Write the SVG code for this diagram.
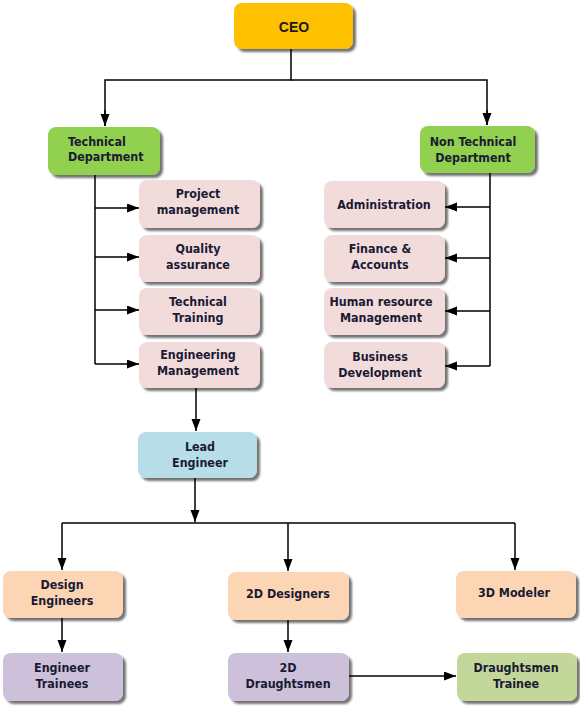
<svg xmlns="http://www.w3.org/2000/svg" width="580" height="709" viewBox="0 0 580 709">
<defs>
<filter id="sh" x="-10%" y="-10%" width="130%" height="140%">
<feGaussianBlur in="SourceAlpha" stdDeviation="1.2"/>
<feOffset dx="3" dy="3" result="b"/>
<feComponentTransfer><feFuncA type="linear" slope="0.55"/></feComponentTransfer>
<feMerge><feMergeNode/><feMergeNode in="SourceGraphic"/></feMerge>
</filter>
<marker id="ar" markerUnits="userSpaceOnUse" markerWidth="13" markerHeight="10" refX="12" refY="4.5" orient="auto">
<path d="M0,0 L12,4.5 L0,9 z" fill="#000"/>
</marker>
</defs>
<style>
.box{filter:url(#sh);}
.t{font-family:'DejaVu Sans Condensed','DejaVu Sans',sans-serif;font-stretch:condensed;font-weight:bold;font-size:12.4px;fill:#1a1a33;text-anchor:middle;}
.c{fill:none;stroke:#000;stroke-width:1.5;}
.a{marker-end:url(#ar);}
.ceo{fill:#FFC000;}
.grn{fill:#92D050;}
.pnk{fill:#F2DCDB;}
.blu{fill:#B7DEE8;}
.pch{fill:#FCD5B4;}
.lav{fill:#CCC0DA;}
.lg{fill:#C4D79B;}
</style>
<rect width="580" height="709" fill="#fff"/>
<g id="connectors">
<path class="c" d="M291 49 V80 H105 V126"/>
<path class="c a" d="M105 110 V126"/>
<path class="c" d="M291 80 H487 V125"/>
<path class="c a" d="M487 110 V125"/>
<path class="c" d="M95 175 V364"/>
<path class="c a" d="M95 208 H139"/>
<path class="c a" d="M95 257 H139"/>
<path class="c a" d="M95 310 H139"/>
<path class="c a" d="M95 364 H139"/>
<path class="c" d="M490 173 V366"/>
<path class="c a" d="M490 207 H445"/>
<path class="c a" d="M490 258 H445"/>
<path class="c a" d="M490 311 H445"/>
<path class="c a" d="M490 366 H445"/>
<path class="c a" d="M196 388 V431"/>
<path class="c a" d="M195 478 V522"/>
<path class="c" d="M62 523 H515"/>
<path class="c a" d="M62 523 V570"/>
<path class="c a" d="M288 523 V571"/>
<path class="c a" d="M515 523 V570"/>
<path class="c a" d="M62 618 V652"/>
<path class="c a" d="M288 620 V652"/>
<path class="c a" d="M349 676 H456"/>
</g>
<g id="ceo"><rect class="box ceo" x="234" y="3" width="119" height="46" rx="8"/><text x="294" y="32" style="font-family:'Liberation Sans',Arial,sans-serif;font-weight:bold;font-size:14px;fill:#1a1a1a;text-anchor:middle">CEO</text></g>
<g id="tech"><rect class="box grn" x="48" y="127" width="112" height="48" rx="8"/><text class="t" x="68" y="146" style="text-anchor:start">Technical</text><text class="t" x="68" y="161" style="text-anchor:start">Department</text></g>
<g id="nontech"><rect class="box grn" x="420" y="126" width="115" height="47" rx="8"/><text class="t" x="473" y="146">Non Technical</text><text class="t" x="473" y="162">Department</text></g>
<g id="pm"><rect class="box pnk" x="139" y="180" width="121" height="48" rx="8"/><text class="t" x="198" y="198">Project</text><text class="t" x="198" y="214">management</text></g>
<g id="qa"><rect class="box pnk" x="139" y="235" width="121" height="47" rx="8"/><text class="t" x="198" y="253">Quality</text><text class="t" x="198" y="269">assurance</text></g>
<g id="tt"><rect class="box pnk" x="139" y="288" width="121" height="47" rx="8"/><text class="t" x="198" y="306">Technical</text><text class="t" x="198" y="322">Training</text></g>
<g id="em"><rect class="box pnk" x="139" y="342" width="121" height="46" rx="8"/><text class="t" x="198" y="359">Engineering</text><text class="t" x="198" y="375">Management</text></g>
<g id="admin"><rect class="box pnk" x="324" y="181" width="121" height="47" rx="8"/><text class="t" x="384" y="209">Administration</text></g>
<g id="fin"><rect class="box pnk" x="324" y="235" width="121" height="47" rx="8"/><text class="t" x="380" y="253">Finance &amp;</text><text class="t" x="380" y="269">Accounts</text></g>
<g id="hr"><rect class="box pnk" x="324" y="288" width="121" height="47" rx="8"/><text class="t" x="381" y="306">Human resource</text><text class="t" x="381" y="322">Management</text></g>
<g id="bd"><rect class="box pnk" x="324" y="342" width="121" height="46" rx="8"/><text class="t" x="380" y="361">Business</text><text class="t" x="380" y="377">Development</text></g>
<g id="lead"><rect class="box blu" x="138" y="432" width="119" height="46" rx="8"/><text class="t" x="200" y="451">Lead</text><text class="t" x="200" y="467">Engineer</text></g>
<g id="de"><rect class="box pch" x="3" y="571" width="120" height="47" rx="8"/><text class="t" x="62" y="589">Design</text><text class="t" x="62" y="605">Engineers</text></g>
<g id="d2"><rect class="box pch" x="228" y="572" width="121" height="48" rx="8"/><text class="t" x="288" y="598">2D Designers</text></g>
<g id="d3"><rect class="box pch" x="456" y="571" width="120" height="47" rx="8"/><text class="t" x="514" y="597">3D Modeler</text></g>
<g id="et"><rect class="box lav" x="3" y="653" width="120" height="48" rx="8"/><text class="t" x="62" y="672">Engineer</text><text class="t" x="62" y="688">Trainees</text></g>
<g id="dr2"><rect class="box lav" x="228" y="653" width="121" height="48" rx="8"/><text class="t" x="288" y="672">2D</text><text class="t" x="288" y="688">Draughtsmen</text></g>
<g id="dt"><rect class="box lg" x="457" y="653" width="120" height="48" rx="8"/><text class="t" x="516" y="672">Draughtsmen</text><text class="t" x="516" y="688">Trainee</text></g>
</svg>
